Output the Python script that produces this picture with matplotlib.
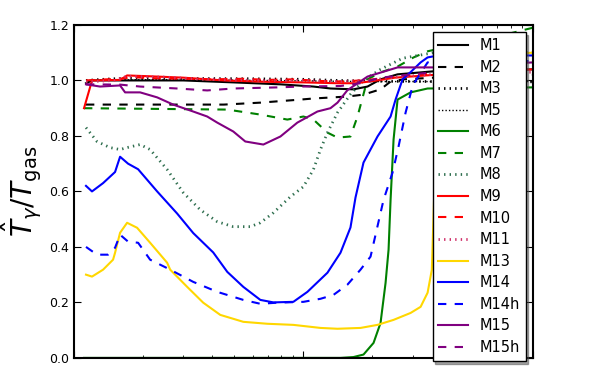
import numpy as np
import matplotlib
matplotlib.use("Agg")
import matplotlib.pyplot as plt

# classic-looking dash patterns (not scaled with line width)
plt.rcParams['lines.scale_dashes'] = False
plt.rcParams['lines.dashed_pattern'] = [6, 6]
plt.rcParams['lines.dotted_pattern'] = [1, 3]
plt.rcParams['lines.dashdot_pattern'] = [3, 5, 1, 5]

labels = ['M1', 'M2', 'M3', 'M5', 'M6', 'M7', 'M8', 'M9', 'M10', 'M11',
          'M13', 'M14', 'M14h', 'M15', 'M15h']

# x positions (log axis, no tick labels in the original) and values
x_m1 = [1.128, 1.2, 1.5, 3.0, 4.95, 7.94, 11.06, 13.12, 16.53, 19.03, 21.69, 25.73, 36.96, 100]
y_m1 = [0.99, 1.0, 1.0, 1.0, 0.993, 0.986, 0.978, 0.971, 0.968, 0.978, 1.004, 1.022, 1.033, 1.04]

x_m2 = [1.128, 4.5, 6.49, 9.70, 11.06, 15.56, 18.28, 21.69, 23.99, 27.33, 36.96, 100]
y_m2 = [0.913, 0.913, 0.92, 0.931, 0.935, 0.942, 0.949, 0.968, 0.996, 1.004, 1.01, 1.02]

x_m3 = [1.128, 1.4, 1.7, 3.0, 6.0, 10.0, 14.0, 18.0, 25.0, 36.96, 100]
y_m3 = [1.0, 1.005, 1.008, 1.007, 1.006, 1.004, 1.0, 0.998, 0.997, 0.996, 0.995]

x_m5 = [1.128, 1.5, 2.5, 5.0, 9.0, 14.0, 20.0, 30.0, 36.96, 100]
y_m5 = [1.0, 1.002, 1.003, 1.001, 0.999, 0.997, 0.996, 0.996, 0.996, 0.996]

x_m6 = [1.106, 10.0, 14.51, 16.53, 18.28, 20.22, 21.69, 22.81, 23.51, 23.99, 24.72, 25.73, 29.33, 34.79, 100]
y_m6 = [0.0, 0.0, 0.0, 0.003, 0.012, 0.054, 0.126, 0.27, 0.39, 0.57, 0.787, 0.931, 0.957, 0.971, 0.975]

x_m7 = [1.106, 4.66, 6.49, 8.51, 10.0, 11.06, 12.73, 14.08, 16.04, 17.21, 19.03, 21.69, 25.73, 30.22, 34.79, 36.96, 50, 80, 100]
y_m7 = [0.9, 0.895, 0.877, 0.859, 0.87, 0.859, 0.812, 0.794, 0.798, 0.87, 1.004, 1.029, 1.05, 1.083, 1.105, 1.11, 1.13, 1.17, 1.19]

x_m8 = [1.128, 1.26, 1.436, 1.588, 1.704, 1.942, 2.147, 2.547, 2.992, 3.549, 4.212, 4.947, 5.87, 6.49,
        7.40, 8.78, 10.0, 11.06, 11.87, 12.73, 14.08, 16.04, 18.28, 21.69, 27.06, 36.96, 100]
y_m8 = [0.83, 0.78, 0.758, 0.751, 0.758, 0.769, 0.751, 0.679, 0.596, 0.534, 0.491, 0.473, 0.473, 0.487,
        0.523, 0.581, 0.617, 0.679, 0.751, 0.812, 0.884, 0.95, 1.0, 1.04, 1.08, 1.1, 1.1]

x_m9 = [1.106, 1.17, 1.198, 1.588, 1.704, 2.147, 3.0, 4.5, 7.0, 10.0, 14.0, 17.0, 21.0, 25.0, 36.96, 100]
y_m9 = [0.9, 0.97, 1.0, 1.002, 1.018, 1.015, 1.01, 1.0, 0.995, 0.993, 0.99, 0.99, 1.0, 1.01, 1.02, 1.04]

x_m10 = [1.128, 1.3, 1.6, 1.8, 2.2, 3.0, 4.0, 5.5, 7.0, 9.0, 12.0, 15.0, 19.0, 25.0, 36.96, 100]
y_m10 = [1.0, 1.003, 1.006, 1.012, 1.008, 1.006, 1.004, 1.006, 1.002, 1.004, 0.998, 0.996, 1.002, 1.012, 1.025, 1.035]

x_m11 = [1.128, 1.5, 1.7, 2.5, 3.5, 5.0, 7.0, 10.0, 14.0, 19.0, 25.0, 36.96, 100]
y_m11 = [0.995, 1.0, 1.015, 1.012, 1.005, 1.002, 1.0, 1.0, 0.996, 1.0, 1.012, 1.022, 1.03]

x_m13 = [1.128, 1.198, 1.339, 1.48, 1.51, 1.588, 1.704, 1.884, 2.147, 2.547, 2.626, 3.114, 3.658, 4.341,
         5.47, 6.96, 9.04, 11.87, 14.08, 17.74, 21.04, 24.72, 29.33, 32.43, 34.79, 36.3, 37.2, 45.0, 55.0, 100]
y_m13 = [0.30, 0.293, 0.318, 0.354, 0.379, 0.451, 0.487, 0.469, 0.415, 0.343, 0.318, 0.256, 0.199, 0.155,
         0.13, 0.123, 0.119, 0.108, 0.105, 0.108, 0.119, 0.137, 0.162, 0.184, 0.235, 0.318, 0.6, 1.0, 1.09, 1.1]

x_m14 = [1.128, 1.198, 1.339, 1.51, 1.588, 1.721, 1.903, 2.304, 2.818, 3.309, 4.045, 4.658, 5.47, 6.49,
         7.40, 9.04, 10.41, 12.73, 14.51, 16.04, 16.87, 18.28, 21.04, 23.99, 25.22, 27.06, 29.33, 32.43,
         34.79, 36.96, 50, 100]
y_m14 = [0.62, 0.60, 0.63, 0.67, 0.725, 0.70, 0.68, 0.60, 0.52, 0.45, 0.38, 0.31, 0.256, 0.209,
         0.20, 0.202, 0.238, 0.307, 0.379, 0.47, 0.578, 0.704, 0.798, 0.870, 0.931, 1.004, 1.03, 1.065,
         1.083, 1.087, 1.09, 1.09]

x_m14h = [1.128, 1.26, 1.408, 1.51, 1.588, 1.721, 1.903, 2.147, 2.626, 3.309, 4.212, 5.47, 6.49, 7.70,
          10.0, 11.87, 13.52, 15.56, 17.74, 19.62, 22.36, 24.47, 25.99, 27.89, 29.92, 31.46, 34.79, 36.96, 100]
y_m14h = [0.40, 0.372, 0.372, 0.397, 0.444, 0.419, 0.415, 0.354, 0.318, 0.274, 0.238, 0.209, 0.195, 0.199,
          0.202, 0.213, 0.227, 0.264, 0.318, 0.365, 0.57, 0.668, 0.762, 0.884, 0.98, 1.01, 1.065, 1.07, 1.07]

x_m15 = [1.128, 1.299, 1.588, 1.670, 1.942, 2.304, 2.706, 3.309, 3.808, 4.212, 4.947, 5.58, 6.69, 7.94,
         9.41, 11.51, 13.12, 14.08, 15.56, 19.03, 25.73, 36.96, 100]
y_m15 = [0.986, 0.978, 0.982, 0.957, 0.957, 0.939, 0.913, 0.888, 0.87, 0.848, 0.816, 0.78, 0.769, 0.798,
         0.848, 0.888, 0.90, 0.92, 0.965, 1.014, 1.047, 1.047, 1.065]

x_m15h = [1.128, 1.588, 1.942, 2.818, 3.808, 4.947, 7.70, 9.70, 14.51, 17.74, 21.69, 36.96, 100]
y_m15h = [0.986, 0.985, 0.978, 0.971, 0.964, 0.971, 0.975, 0.978, 0.98, 0.99, 1.01, 1.03, 1.04]

series = [
    (x_m1, y_m1, 'k', '-', 1.5),
    (x_m2, y_m2, 'k', '--', 1.5),
    (x_m3, y_m3, 'k', ':', 2.0),
    (x_m5, y_m5, 'k', (0, (1, 1.5)), 1.0),
    (x_m6, y_m6, 'g', '-', 1.5),
    (x_m7, y_m7, 'g', '--', 1.5),
    (x_m8, y_m8, '#2f6f4f', ':', 2.0),
    (x_m9, y_m9, 'r', '-', 1.5),
    (x_m10, y_m10, 'r', '--', 1.5),
    (x_m11, y_m11, '#d0306a', ':', 2.0),
    (x_m13, y_m13, 'gold', '-', 1.5),
    (x_m14, y_m14, 'b', '-', 1.5),
    (x_m14h, y_m14h, 'b', '--', 1.5),
    (x_m15, y_m15, 'purple', '-', 1.5),
    (x_m15h, y_m15h, 'purple', '--', 1.5),
]

fig = plt.figure(figsize=(5.92, 3.84), dpi=100)
ax = fig.add_axes([0.125, 0.068, 0.775, 0.867])

for (xs, ys, c, ls, lw), lab in zip(series, labels):
    ax.plot(xs, ys, color=c, linestyle=ls, linewidth=lw, label=lab)

ax.set_xscale('log')
ax.set_xlim(1, 100)
ax.set_ylim(0, 1.2)
ax.set_yticks([0.0, 0.2, 0.4, 0.6, 0.8, 1.0, 1.2])
ax.xaxis.set_major_formatter(plt.NullFormatter())
ax.xaxis.set_minor_formatter(plt.NullFormatter())
ax.tick_params(which='both', direction='in', top=True, right=True, labelsize=9)
ax.tick_params(which='major', length=5)
ax.tick_params(which='minor', length=2.5)
for s in ax.spines.values():
    s.set_linewidth(1.5)

ax.set_ylabel(r'$\hat{T}_\gamma/T_{\rm gas}$', fontsize=20)

leg = ax.legend(loc='upper right', fontsize=10.5, shadow=True, fancybox=False,
                handlelength=2.0, labelspacing=0.45, borderaxespad=0.5, framealpha=1)
leg.get_frame().set_edgecolor('k')

fig.savefig('out.png', dpi=100)
